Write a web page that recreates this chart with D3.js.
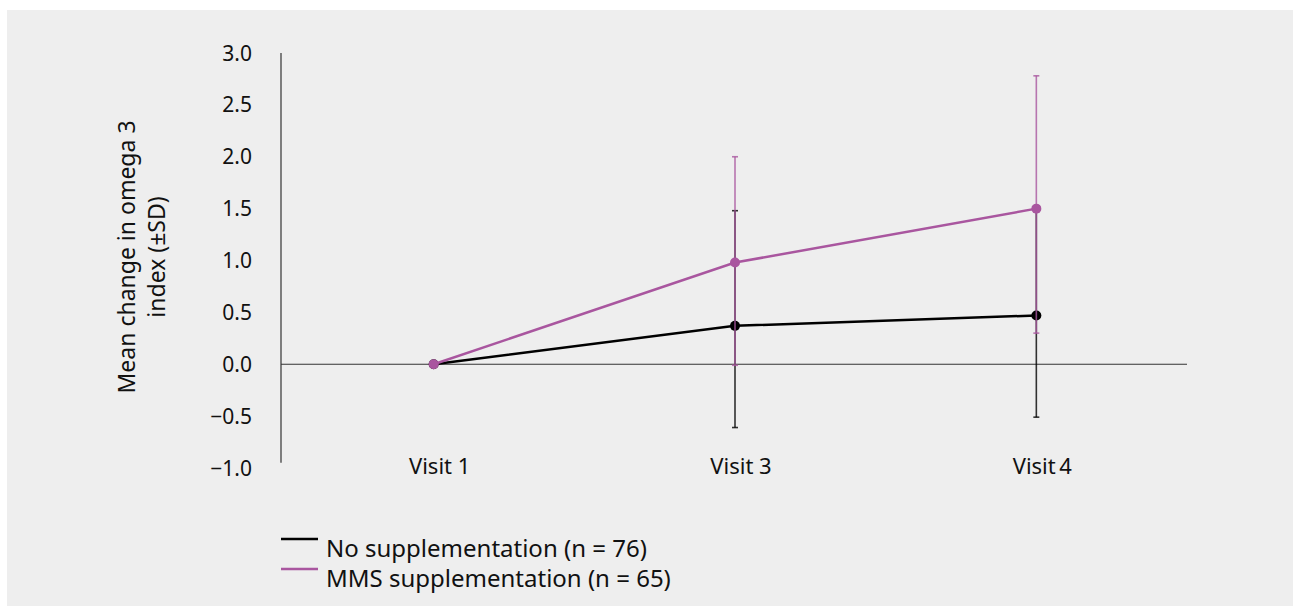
<!DOCTYPE html>
<html lang="en">
<head>
<meta charset="UTF-8">
<title>Omega 3 index change</title>
<script src="https://d3js.org/d3.v7.min.js"></script>
<style>
  body { margin: 0; background: #fff; }
  text { font-family: "Noto Sans", sans-serif; fill: #111; }
</style>
</head>
<body>
<div id="chart"></div>
<script>
// data
const visits = ["Visit 1", "Visit 3", "Visit\u20094"];
const yTicks = [3.0, 2.5, 2.0, 1.5, 1.0, 0.5, 0.0, -0.5, -1.0];

const noSupMean = [0, 0.37, 0.47];
const noSupLow  = [0, -0.61, -0.51];
const noSupHigh = [0, 1.48, 1.49];

const mmsMean = [0, 0.98, 1.50];
const mmsLow  = [0, -0.01, 0.30];
const mmsHigh = [0, 2.00, 2.78];

const seriesNames = ["No supplementation (n = 76)", "MMS supplementation (n = 65)"];
const colors = ["#000000", "#a9569f"];

const W = 1293, H = 606;

const svg = d3.select("#chart").append("svg")
    .attr("width", W)
    .attr("height", H);

// grey panel
svg.append("rect")
    .attr("x", 7).attr("y", 10)
    .attr("width", W - 7).attr("height", H - 10)
    .attr("fill", "#eeeeee");

const x = d3.scaleBand()
    .domain(visits)
    .range([283, 1187])
    .padding(0);

const y = d3.scaleLinear()
    .domain([-1, 3])
    .range([468, 53]);

const cx = d => x(d) + x.bandwidth() / 2;

// y axis line + labels
svg.append("line")
    .attr("x1", 281).attr("x2", 281)
    .attr("y1", y(3)).attr("y2", y(-0.95))
    .attr("stroke", "#333").attr("stroke-width", 1.2);

svg.selectAll(".ytick")
  .data(yTicks)
  .join("text")
    .attr("class", "ytick")
    .attr("x", 252)
    .attr("y", d => y(d))
    .attr("dy", "0.36em")
    .attr("text-anchor", "end")
    .style("font-size", "21px")
    .text(d => d < 0 ? "\u2212" + d3.format(".1f")(-d) : d3.format(".1f")(d));

// zero line
svg.append("line")
    .attr("x1", 281).attr("x2", 1187)
    .attr("y1", y(0)).attr("y2", y(0))
    .attr("stroke", "#333").attr("stroke-width", 1.2);

// x labels
svg.selectAll(".xlab")
  .data(visits)
  .join("text")
    .attr("class", "xlab")
    .attr("x", d => cx(d) + 6)
    .attr("y", 466)
    .attr("dy", "0.36em")
    .attr("text-anchor", "middle")
    .style("font-size", "22px")
    .text(d => d);

// y axis title
const yt = svg.append("text")
    .attr("transform", "translate(142,257) rotate(-90)")
    .attr("text-anchor", "middle")
    .style("font-size", "23px");
yt.append("tspan").attr("x", 0).attr("dy", "-0.3em").text("Mean change in omega 3");
yt.append("tspan").attr("x", 0).attr("dy", "1.3em").text("index (\u00b1SD)");

const series = [
  { mean: noSupMean, low: noSupLow, high: noSupHigh, color: colors[0] },
  { mean: mmsMean, low: mmsLow, high: mmsHigh, color: colors[1] }
];

const line = d3.line()
    .x((d, i) => cx(visits[i]))
    .y(d => y(d));

series.forEach(s => {
  const g = svg.append("g");
  // error bars
  const idx = visits.map((v, i) => i).filter(i => s.high[i] !== s.low[i]);
  g.selectAll(".eb")
    .data(idx)
    .join("line")
      .attr("x1", i => cx(visits[i])).attr("x2", i => cx(visits[i]))
      .attr("y1", i => y(s.high[i])).attr("y2", i => y(s.low[i]))
      .attr("stroke", s.color).attr("stroke-opacity", 0.8)
      .attr("stroke-width", 1.6);
  idx.forEach(i => {
    [s.high[i], s.low[i]].forEach(v => {
      g.append("line")
        .attr("x1", cx(visits[i]) - 3).attr("x2", cx(visits[i]) + 3)
        .attr("y1", y(v)).attr("y2", y(v))
        .attr("stroke", s.color).attr("stroke-opacity", 0.8)
        .attr("stroke-width", 1.6);
    });
  });
  // line
  g.append("path")
    .datum(s.mean)
    .attr("d", line)
    .attr("fill", "none")
    .attr("stroke", s.color)
    .attr("stroke-width", 2.5);
  // points
  g.selectAll("circle")
    .data(s.mean)
    .join("circle")
      .attr("cx", (d, i) => cx(visits[i]))
      .attr("cy", d => y(d))
      .attr("r", 5)
      .attr("fill", s.color);
});

// legend
const leg = svg.selectAll(".leg")
  .data(seriesNames)
  .join("g")
    .attr("class", "leg")
    .attr("transform", (d, i) => `translate(281,${539 + i * 30})`);
leg.append("line")
    .attr("x1", 0).attr("x2", 37)
    .attr("stroke", (d, i) => colors[i])
    .attr("stroke-width", 2.5);
leg.append("text")
    .attr("x", 45)
    .attr("y", 9)
    .attr("dy", "0.36em")
    .style("font-size", "24px")
    .text(d => d);
</script>
</body>
</html>
